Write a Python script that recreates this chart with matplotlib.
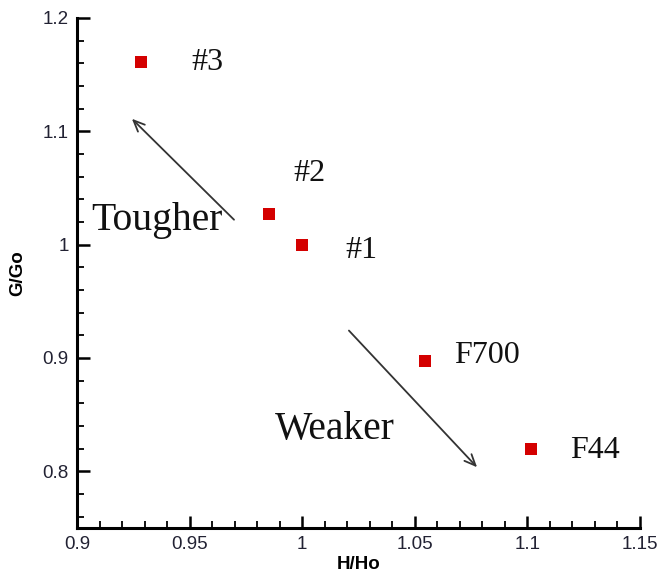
import matplotlib
matplotlib.use("Agg")
import matplotlib.pyplot as plt
from matplotlib.ticker import MultipleLocator, FixedFormatter, FixedLocator

labels = ["#3", "#2", "#1", "F700", "F44"]
h_ratio = [0.9284, 0.9853, 1.0, 1.0545, 1.1016]
g_ratio = [1.161, 1.027, 1.0, 0.897, 0.820]
label_pos = [(0.951, 1.161), (0.996, 1.063), (1.019, 0.995), (1.0675, 0.902), (1.119, 0.818)]

xticks = [0.9, 0.95, 1.0, 1.05, 1.1, 1.15]
xticklabels = ["0.9", "0.95", "1", "1.05", "1.1", "1.15"]
yticks = [0.8, 0.9, 1.0, 1.1, 1.2]
yticklabels = ["0.8", "0.9", "1", "1.1", "1.2"]

fig = plt.figure(figsize=(6.58, 5.75), dpi=100)
ax = fig.add_axes([77/658, 1 - 528/575, (640-77)/658, (528-18)/575])

ax.plot(h_ratio, g_ratio, linestyle="none", marker="s", markersize=8.5,
        color="#d40000", markeredgewidth=0)

for t, (x, y) in zip(labels, label_pos):
    ax.text(x, y, t, fontsize=23, family="Liberation Serif", va="center", ha="left", color="#111111")

ax.annotate("", xy=(0.9235, 1.1128), xytext=(0.9706, 1.0203),
            arrowprops=dict(arrowstyle="->,head_length=0.8,head_width=0.35", color="#333333", lw=1.3))
ax.annotate("", xy=(1.0785, 0.8018), xytext=(1.0199, 0.926),
            arrowprops=dict(arrowstyle="->,head_length=0.8,head_width=0.35", color="#333333", lw=1.3))

ax.text(0.9355, 1.021, "Tougher", fontsize=28.5, family="Liberation Serif", ha="center", va="center", color="#111111")
ax.text(1.0145, 0.837, "Weaker", fontsize=28.5, family="Liberation Serif", ha="center", va="center", color="#111111")

ax.set_xlim(0.9, 1.15)
ax.set_ylim(0.75, 1.2)
ax.xaxis.set_major_locator(FixedLocator(xticks))
ax.xaxis.set_major_formatter(FixedFormatter(xticklabels))
ax.yaxis.set_major_locator(FixedLocator(yticks))
ax.yaxis.set_major_formatter(FixedFormatter(yticklabels))
ax.xaxis.set_minor_locator(MultipleLocator(0.01))
ax.yaxis.set_minor_locator(MultipleLocator(0.02))

for s in ["top", "right"]:
    ax.spines[s].set_visible(False)
for s in ["left", "bottom"]:
    ax.spines[s].set_linewidth(2.2)
    ax.spines[s].set_color("black")

ax.tick_params(which="major", direction="in", length=9, width=1.8, labelsize=13.5, pad=6,
               labelcolor="#222233")
ax.tick_params(which="minor", direction="in", length=5, width=1.3)
for lab in ax.get_xticklabels() + ax.get_yticklabels():
    lab.set_family("Liberation Sans")

ax.set_xlabel("H/Ho", fontsize=13.5, fontweight="bold", family="Liberation Sans", labelpad=2)
ax.set_ylabel("G/Go", fontsize=13.5, fontweight="bold", family="Liberation Sans", labelpad=12)

fig.savefig("out.png", dpi=100)
